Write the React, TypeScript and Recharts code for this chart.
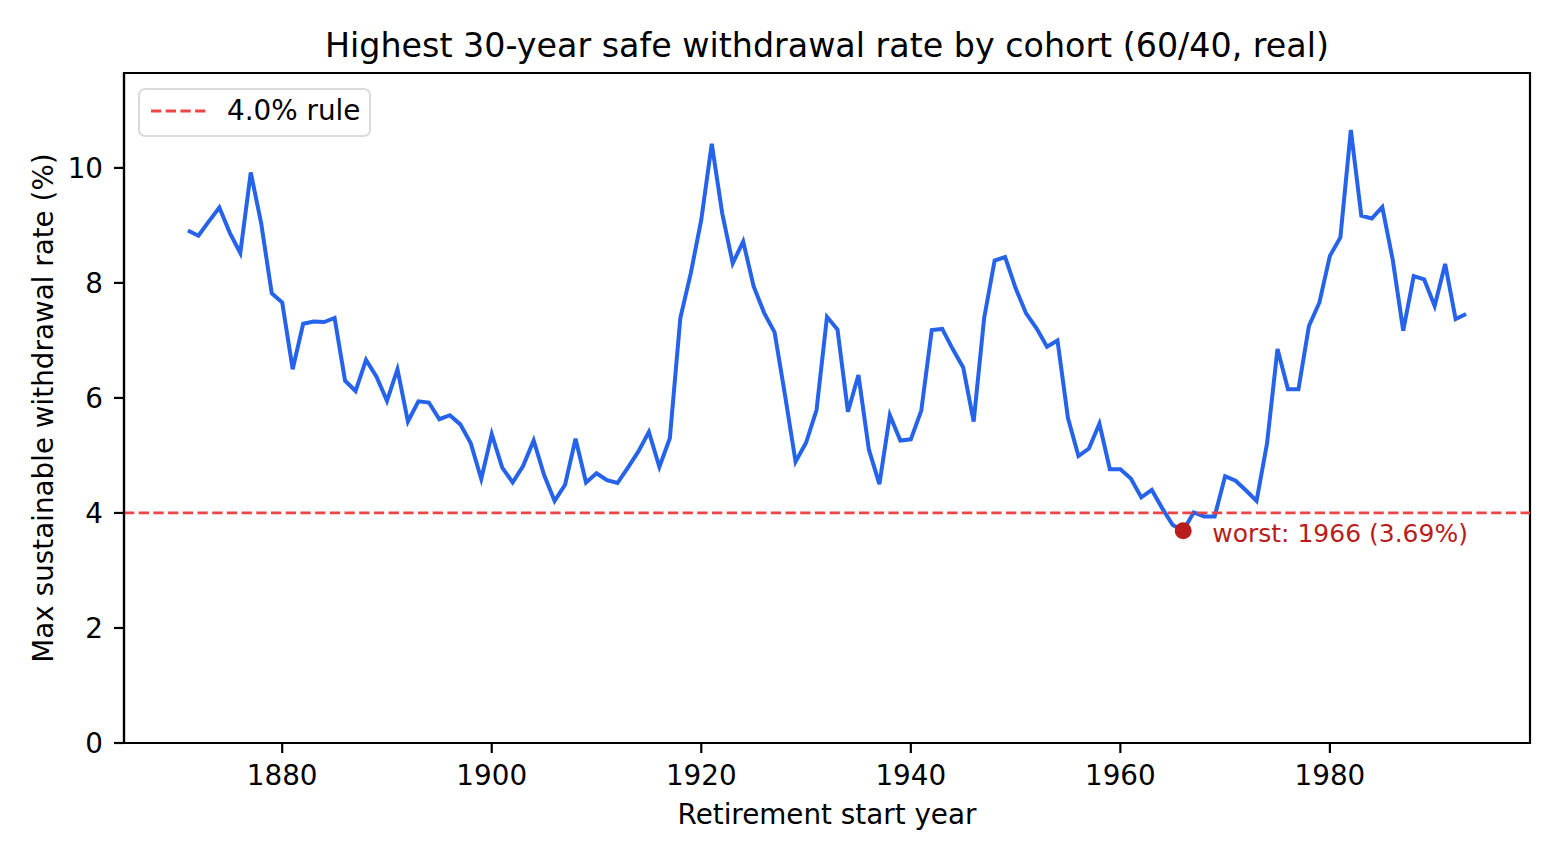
import React from 'react';
import { LineChart, Line, XAxis, YAxis, ReferenceLine, ReferenceDot, ReferenceArea, Label } from 'recharts';

const START_YEAR = 1871;

// max sustainable withdrawal rate (%) per cohort, 1871..1993
const RATES = [
    8.91, 8.82, 9.07, 9.31, 8.87, 8.52, 9.92, 9.03, 7.82, // 1871-1879
    7.66, 6.50, 7.29, 7.33, 7.32, 7.39, 6.30, 6.12, 6.66, 6.37, // 1880s
    5.95, 6.50, 5.59, 5.94, 5.92, 5.63, 5.70, 5.54, 5.21, 4.59, // 1890s
    5.37, 4.79, 4.53, 4.82, 5.26, 4.66, 4.21, 4.49, 5.29, 4.53, // 1900s
    4.69, 4.57, 4.52, 4.79, 5.07, 5.41, 4.80, 5.30, 7.39, 8.17, // 1910s
    9.10, 10.42, 9.21, 8.34, 8.72, 7.94, 7.48, 7.14, 6.04, 4.89, // 1920s
    5.22, 5.79, 7.41, 7.19, 5.76, 6.40, 5.10, 4.50, 5.70, 5.26, // 1930s
    5.28, 5.78, 7.18, 7.20, 6.85, 6.53, 5.59, 7.39, 8.39, 8.45, // 1940s
    7.91, 7.47, 7.21, 6.89, 7.00, 5.65, 4.99, 5.12, 5.55, 4.76, // 1950s
    4.76, 4.60, 4.27, 4.40, 4.08, 3.79, 3.69, 4.01, 3.94, 3.94, // 1960s
    4.64, 4.56, 4.39, 4.21, 5.21, 6.85, 6.15, 6.15, 7.25, 7.66, // 1970s
    8.47, 8.79, 10.66, 9.17, 9.12, 9.32, 8.40, 7.17, 8.12, 8.06, // 1980s
    7.60, 8.33, 7.37, 7.46, // 1990-1993
];

const X_TICKS = [1880, 1900, 1920, 1940, 1960, 1980];
const Y_TICKS = [0, 2, 4, 6, 8, 10];
const X_DOMAIN: [number, number] = [1864.9, 1999.1];
const Y_DOMAIN: [number, number] = [0, 11.65];

const RULE_RATE = 4.0;
const WORST_YEAR = 1966;
const WORST_RATE = 3.69;

const data = RATES.map((rate, i) => ({ year: START_YEAR + i, rate }));

const FONT = '"DejaVu Sans", sans-serif';

const WorstMarker: React.FC<any> = ({ cx, cy }) => (
    <g>
        <circle cx={cx} cy={cy} r={8.5} fill="#b91c1c" />
        <text x={cx + 29} y={cy + 11} fill="#b91c1c" fontSize={25} fontFamily={FONT}>
            {`worst: ${WORST_YEAR} (${WORST_RATE.toFixed(2)}%)`}
        </text>
    </g>
);

const XTitle: React.FC<any> = ({ viewBox }) => (
    <text x={viewBox.x + viewBox.width / 2} y={viewBox.y + 81} textAnchor="middle" fontSize={27.8} fill="#000" fontFamily={FONT}>
        Retirement start year
    </text>
);

const YTitle: React.FC<any> = ({ viewBox }) => {
    const cx = viewBox.x + 19;
    const cy = viewBox.y + viewBox.height / 2;
    return (
        <text x={cx} y={cy} dy="0.36em" transform={`rotate(-90 ${cx} ${cy})`} textAnchor="middle" fontSize={27.8} fill="#000" fontFamily={FONT}>
            Max sustainable withdrawal rate (%)
        </text>
    );
};

const App: React.FC = () => {
    return (
        <div style={{ position: 'absolute', left: 0, top: 0, width: 1560, height: 860, background: '#fff', fontFamily: FONT }}>
            <div style={{ position: 'absolute', left: 124, top: 26, width: 1406, textAlign: 'center', fontSize: 33.3, lineHeight: '40px', color: '#000' }}>
                Highest 30-year safe withdrawal rate by cohort (60/40, real)
            </div>
            <LineChart width={1560} height={860} data={data} margin={{ top: 73, right: 30, left: 24, bottom: 27 }}>
                <ReferenceArea x1={X_DOMAIN[0]} x2={X_DOMAIN[1]} y1={Y_DOMAIN[0]} y2={Y_DOMAIN[1]} fill="none" fillOpacity={0} stroke="#000" strokeWidth={2.2} ifOverflow="extendDomain" />
                <XAxis
                    dataKey="year"
                    type="number"
                    domain={X_DOMAIN}
                    allowDataOverflow
                    ticks={X_TICKS}
                    height={90}
                    tickSize={10}
                    tickMargin={12}
                    axisLine={{ stroke: '#000', strokeWidth: 2.2 }}
                    tickLine={{ stroke: '#000', strokeWidth: 2.2 }}
                    tick={{ fill: '#000', fontSize: 27.8, fontFamily: FONT }}
                >
                    <Label content={<XTitle />} />
                </XAxis>
                <YAxis
                    type="number"
                    domain={Y_DOMAIN}
                    allowDataOverflow
                    ticks={Y_TICKS}
                    width={100}
                    tickSize={10}
                    tickMargin={11}
                    axisLine={{ stroke: '#000', strokeWidth: 2.2 }}
                    tickLine={{ stroke: '#000', strokeWidth: 2.2 }}
                    tick={{ fill: '#000', fontSize: 27.8, fontFamily: FONT }}
                >
                    <Label content={<YTitle />} />
                </YAxis>
                <Line type="linear" dataKey="rate" stroke="#2563eb" strokeWidth={4} dot={false} isAnimationActive={false} />
                <ReferenceLine y={RULE_RATE} stroke="#ef4444" strokeWidth={2.8} strokeDasharray="10.3 4.4" />
                <ReferenceDot x={WORST_YEAR} y={WORST_RATE} shape={<WorstMarker />} />
            </LineChart>
            <div style={{ position: 'absolute', left: 138, top: 88, width: 233, height: 49, boxSizing: 'border-box', border: '2px solid #dadada', borderRadius: 7, background: '#fff' }}>
                <svg width={60} height={45} style={{ position: 'absolute', left: 10, top: 0 }}>
                    <line x1={1} y1={21} x2={56} y2={21} stroke="#ef4444" strokeWidth={2.8} strokeDasharray="10.3 4.4" />
                </svg>
                <div style={{ position: 'absolute', left: 87, top: 4, fontSize: 27.8, lineHeight: '34px', color: '#000' }}>
                    {`${RULE_RATE.toFixed(1)}% rule`}
                </div>
            </div>
        </div>
    );
};

export default App;
